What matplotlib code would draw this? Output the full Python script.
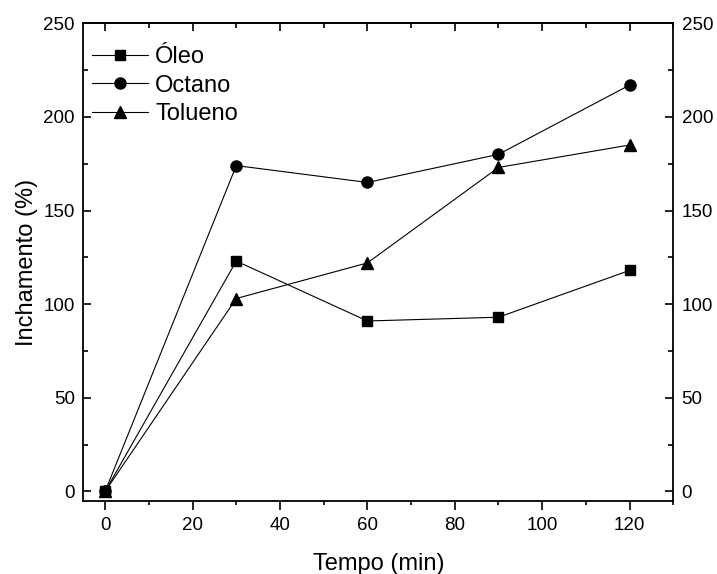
import matplotlib
matplotlib.use("Agg")
import matplotlib.pyplot as plt
from matplotlib.ticker import MultipleLocator

tempo = [0, 30, 60, 90, 120]
oleo = [0, 123, 91, 93, 118]
octano = [0, 174, 165, 180, 217]
tolueno = [0, 103, 122, 173, 185]

plt.rcParams['font.family'] = ['Liberation Sans', 'DejaVu Sans']

fig = plt.figure(figsize=(7.17, 5.74), dpi=100)
ax = fig.add_axes([0.1162, 0.1277, 0.9390 - 0.1162, 0.9594 - 0.1277])

ax.plot(tempo, oleo, color='black', lw=0.8, marker='s', ms=7, label='Óleo')
ax.plot(tempo, octano, color='black', lw=0.8, marker='o', ms=8, label='Octano')
ax.plot(tempo, tolueno, color='black', lw=0.8, marker='^', ms=8, label='Tolueno')

ax.set_xlim(-5, 130)
ax.set_ylim(-5, 250)
ax.xaxis.set_major_locator(MultipleLocator(20))
ax.xaxis.set_minor_locator(MultipleLocator(10))
ax.yaxis.set_major_locator(MultipleLocator(50))
ax.yaxis.set_minor_locator(MultipleLocator(25))

for s in ax.spines.values():
    s.set_linewidth(1.3)

ax.tick_params(axis='x', which='major', direction='out', length=6.7, width=1.2, labelsize=13.5, pad=5)
ax.tick_params(axis='x', which='minor', direction='out', length=3.2, width=1.2)
ax.tick_params(axis='y', which='major', direction='in', length=6, width=1.2, labelsize=13.5,
               left=True, right=True, labelleft=True, labelright=True, pad=6)
ax.tick_params(axis='y', which='minor', direction='in', length=3.6, width=1.2, left=True, right=True)

top = ax.secondary_xaxis('top')
top.xaxis.set_major_locator(MultipleLocator(20))
top.xaxis.set_minor_locator(MultipleLocator(10))
top.tick_params(axis='x', which='major', direction='in', length=6, width=1.2, labeltop=False)
top.tick_params(axis='x', which='minor', direction='in', length=3.6, width=1.2)
top.spines['top'].set_linewidth(1.3)

ax.set_xlabel('Tempo (min)', fontsize=17, labelpad=14)
ax.set_ylabel('Inchamento (%)', fontsize=17, labelpad=4)

leg = ax.legend(loc='upper left', frameon=False, fontsize=17, handlelength=2.4,
                handletextpad=0.3, labelspacing=0.27, borderaxespad=0.0,
                borderpad=0.2, bbox_to_anchor=(0.006, 0.962))

fig.savefig('out.png', dpi=100)
